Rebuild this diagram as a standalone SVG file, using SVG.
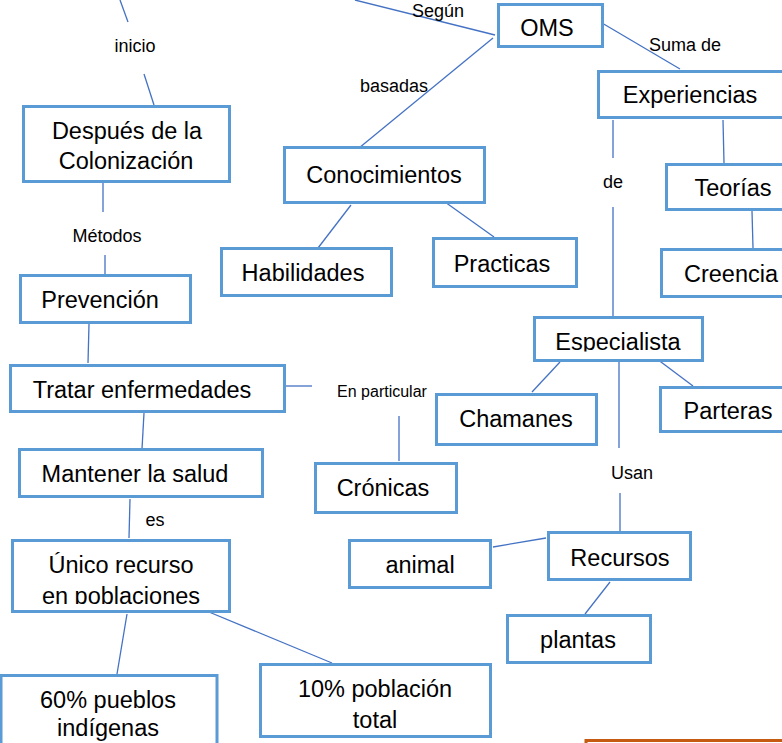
<svg xmlns="http://www.w3.org/2000/svg" width="782" height="743" viewBox="0 0 782 743">
<style>
.box{fill:#fff;stroke:#5B9BD5;stroke-width:3}
.t{font-family:"Liberation Sans",Arial,sans-serif;font-size:23.5px;fill:#000;text-anchor:middle}
.l{font-family:"Liberation Sans",Arial,sans-serif;font-size:18px;fill:#000;text-anchor:middle}
.c line{stroke:#4472C4;stroke-width:1.3}
</style>
<defs>
<clipPath id="clipUnico"><rect x="12" y="540" width="218" height="64"/></clipPath>
<clipPath id="clipEsp"><rect x="534" y="317" width="169" height="34.5"/></clipPath>
</defs>
<rect width="782" height="743" fill="#fff"/>
<g id="connectors" class="c">
<line x1="120" y1="0" x2="128" y2="22"/>
<line x1="144" y1="74" x2="154" y2="105"/>
<line x1="103" y1="183" x2="103" y2="212"/>
<line x1="105" y1="255" x2="105" y2="274"/>
<line x1="89" y1="324" x2="88" y2="363"/>
<line x1="144" y1="413" x2="142" y2="449"/>
<line x1="130" y1="499" x2="129" y2="538"/>
<line x1="127" y1="614" x2="117" y2="674"/>
<line x1="209" y1="612" x2="332" y2="663"/>
<line x1="286" y1="386" x2="312" y2="386"/>
<line x1="399" y1="416" x2="399" y2="461"/>
<line x1="355" y1="0" x2="495" y2="35"/>
<line x1="493" y1="38" x2="359" y2="148"/>
<line x1="602" y1="23" x2="680" y2="69"/>
<line x1="613" y1="120" x2="613" y2="158"/>
<line x1="613" y1="207" x2="613" y2="316"/>
<line x1="723" y1="120" x2="724" y2="163"/>
<line x1="752" y1="211" x2="753" y2="248"/>
<line x1="351" y1="205" x2="318" y2="248"/>
<line x1="445" y1="202" x2="494" y2="237"/>
<line x1="560" y1="362" x2="532" y2="392"/>
<line x1="657" y1="359" x2="693" y2="386"/>
<line x1="619" y1="362" x2="619" y2="448"/>
<line x1="620" y1="493" x2="620" y2="531"/>
<line x1="546" y1="538" x2="493" y2="547"/>
<line x1="610" y1="582" x2="585" y2="614"/>
</g>
<g id="labels">
<text class="l" x="135" y="52">inicio</text>
<text class="l" x="438" y="17">Según</text>
<text class="l" x="394" y="92">basadas</text>
<text class="l" x="685" y="51">Suma de</text>
<text class="l" x="613" y="188">de</text>
<text class="l" x="107" y="242">Métodos</text>
<text class="l" x="382" y="397" style="font-size:16px">En particular</text>
<text class="l" x="632" y="479">Usan</text>
<text class="l" x="155" y="526">es</text>
</g>
<g id="n-despues"><rect class="box" x="23.5" y="106.5" width="206" height="75"/><text class="t" x="127" y="139">Después de la</text><text class="t" x="126" y="169">Colonización</text></g>
<g id="n-oms"><rect class="box" x="498.5" y="4.5" width="104" height="42"/><text class="t" x="547" y="36">OMS</text></g>
<g id="n-experiencias"><rect class="box" x="598.5" y="71.5" width="200" height="46"/><text class="t" x="690" y="103">Experiencias</text></g>
<g id="n-teorias"><rect class="box" x="666.5" y="164.5" width="130" height="45"/><text class="t" x="733" y="196">Teorías</text></g>
<g id="n-creencia"><rect class="box" x="661.5" y="249.5" width="130" height="47"/><text class="t" x="731" y="282">Creencia</text></g>
<g id="n-conocimientos"><rect class="box" x="284.5" y="147.5" width="200" height="55"/><text class="t" x="384" y="183">Conocimientos</text></g>
<g id="n-habilidades"><rect class="box" x="221.5" y="248.5" width="170" height="47"/><text class="t" x="303" y="281">Habilidades</text></g>
<g id="n-practicas"><rect class="box" x="433.5" y="238.5" width="143" height="48"/><text class="t" x="502" y="272">Practicas</text></g>
<g id="n-prevencion"><rect class="box" x="20.5" y="275.5" width="170" height="47"/><text class="t" x="100" y="308">Prevención</text></g>
<g id="n-tratar"><rect class="box" x="10.5" y="365.5" width="274" height="46"/><text class="t" x="142" y="398">Tratar enfermedades</text></g>
<g id="n-mantener"><rect class="box" x="19.5" y="449.5" width="243" height="47"/><text class="t" x="135" y="482">Mantener la salud</text></g>
<g id="n-unico"><rect class="box" x="12.5" y="540.5" width="217" height="71"/><text class="t" x="121" y="573">Único recurso</text><text class="t" x="121" y="604" clip-path="url(#clipUnico)">en poblaciones</text></g>
<g id="n-60"><rect class="box" x="1" y="675.5" width="216" height="80"/><text class="t" x="108" y="708">60% pueblos</text><text class="t" x="108" y="736">indígenas</text></g>
<g id="n-10"><rect class="box" x="260.5" y="664.5" width="230" height="72"/><text class="t" x="375" y="697">10% población</text><text class="t" x="375" y="728">total</text></g>
<g id="n-cronicas"><rect class="box" x="315.5" y="463.5" width="141" height="49"/><text class="t" x="383" y="496">Crónicas</text></g>
<g id="n-chamanes"><rect class="box" x="436.5" y="394.5" width="160" height="50"/><text class="t" x="516" y="427">Chamanes</text></g>
<g id="n-especialista"><rect class="box" x="534.5" y="317.5" width="168" height="43"/><text class="t" x="618" y="350" clip-path="url(#clipEsp)">Especialista</text></g>
<g id="n-parteras"><rect class="box" x="660.5" y="387.5" width="130" height="44"/><text class="t" x="728" y="419">Parteras</text></g>
<g id="n-recursos"><rect class="box" x="548.5" y="532.5" width="142" height="47"/><text class="t" x="620" y="566">Recursos</text></g>
<g id="n-animal"><rect class="box" x="349.5" y="540.5" width="141" height="47"/><text class="t" x="420" y="573">animal</text></g>
<g id="n-plantas"><rect class="box" x="507.5" y="615.5" width="143" height="47"/><text class="t" x="578" y="648">plantas</text></g>
<g id="n-orange"><rect x="586" y="740.5" width="220" height="20" fill="#fff" stroke="#C55A11" stroke-width="3"/></g>
</svg>
